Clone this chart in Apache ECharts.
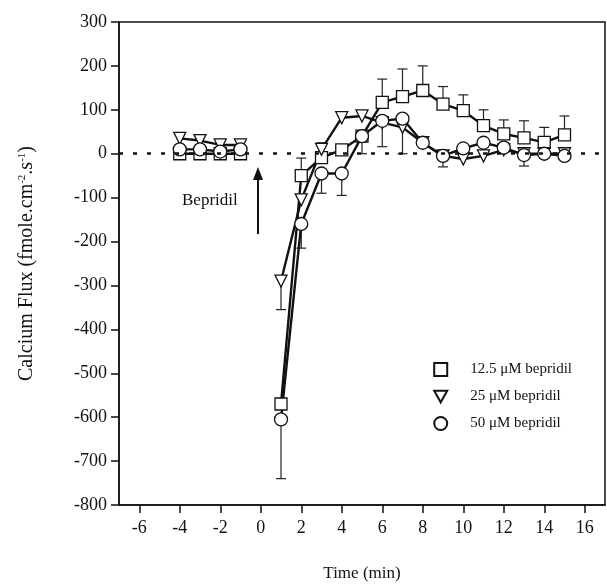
<!DOCTYPE html>
<html>
<head>
<meta charset="utf-8">
<script src="https://cdn.jsdelivr.net/npm/echarts@6/dist/echarts.min.js"></script>
<style>html,body{margin:0;padding:0;background:#fff}#chart{width:607px;height:587px}</style>
</head>
<body>
<div id="chart"></div>
<script>
'use strict';
var times = [-4, -3, -2, -1, 1, 2, 3, 4, 5, 6, 7, 8, 9, 10, 11, 12, 13, 14, 15];
var sq = [0, 0, 0, 0, -570, -50, -9, 9, 40, 117, 130, 144, 113, 98, 64, 45, 36, 26, 43];
var sqErr = [0, 0, 0, 0, 0, 40, 34, 0, 0, 53, 63, 56, 40, 36, 36, 32, 39, 34, 43];
var tri = [35, 30, 20, 20, -290, -105, 10, 82, 86, 71, 60, 25, -5, -12, -5, 9, 0, 0, 0];
var triErr = [0, 0, 0, 0, -65, 0, 0, 0, 0, -55, -60, 0, 0, 0, 0, 0, 0, 0, 0];
var cir = [10, 10, 5, 10, -605, -160, -45, -45, 40, 75, 80, 25, -5, 12, 25, 14, -3, 0, -5];
var cirErr = [0, 0, 0, 0, -135, -55, -45, -50, -40, 0, 0, 0, -25, 0, 0, 0, -25, 0, 0];
var xTicks = [-6, -4, -2, 0, 2, 4, 6, 8, 10, 12, 14, 16];
var names = ['12.5 \u03bcM bepridil', '25 \u03bcM bepridil', '50 \u03bcM bepridil'];
var downTri = 'path://M0,0 L10,0 L5,9 Z';

function pairs(vals) {
  var out = [];
  times.forEach(function(t, i) {
    if (t === 1) out.push([0, '-']); // bepridil added: break the line
    out.push([t, vals[i]]);
  });
  return out;
}
function errData(vals, errs) {
  var out = [];
  times.forEach(function(t, i) { if (errs[i] !== 0) out.push([t, vals[i], vals[i] + errs[i]]); });
  return out;
}
function errSeries(vals, errs) {
  return {
    type: 'custom', silent: true, z: 1,
    data: errData(vals, errs),
    encode: { x: 0, y: [1, 2] },
    renderItem: function(params, api) {
      var a = api.coord([api.value(0), api.value(1)]);
      var b = api.coord([api.value(0), api.value(2)]);
      var st = { stroke: '#222', lineWidth: 1.2 };
      return { type: 'group', children: [
        { type: 'line', shape: { x1: a[0], y1: a[1], x2: b[0], y2: b[1] }, style: st },
        { type: 'line', shape: { x1: b[0] - 5, y1: b[1], x2: b[0] + 5, y2: b[1] }, style: st }
      ] };
    }
  };
}
function lineSeries(name, vals, symbol, size) {
  return {
    name: name, type: 'line', data: pairs(vals), symbol: symbol, symbolSize: size,
    connectNulls: false,
    lineStyle: { color: '#111', width: 2.4 },
    itemStyle: { color: '#fff', borderColor: '#111', borderWidth: 1.3 },
    z: 3
  };
}
var font = 'Liberation Serif';
var chart = echarts.init(document.getElementById('chart'));
chart.setOption({
  animation: false,
  textStyle: { fontFamily: font },
  grid: { left: 119, top: 22, right: 2, bottom: 81, show: true, borderColor: '#111', borderWidth: 1.5 },
  legend: {
    orient: 'vertical', right: 30, top: 357, itemGap: 12, itemWidth: 13, itemHeight: 13,
    textStyle: { fontFamily: font, fontSize: 15, color: '#111', padding: [0, 0, 0, 18] },
    data: [
      { name: names[0], icon: 'rect' },
      { name: names[1], icon: downTri },
      { name: names[2], icon: 'circle' }
    ]
  },
  xAxis: {
    type: 'value', min: -7, max: 17,
    name: 'Time (min)', nameLocation: 'middle', nameGap: 60,
    nameTextStyle: { fontFamily: font, fontSize: 17, color: '#111' },
    axisLine: { onZero: false, lineStyle: { color: '#111', width: 1.5 } },
    axisTick: { length: 8, customValues: xTicks, lineStyle: { color: '#111', width: 1.5 } },
    axisLabel: { customValues: xTicks, fontFamily: font, fontSize: 18, color: '#111', margin: 14 },
    splitLine: { show: false }
  },
  yAxis: {
    type: 'value', min: -800, max: 300, interval: 100,
    name: 'Calcium Flux (fmole.cm{s|-2}.s{s|-1})', nameLocation: 'middle', nameGap: 82,
    nameTextStyle: { fontFamily: font, fontSize: 20, color: '#111', rich: { s: { fontSize: 11, verticalAlign: 'top', padding: [0, 0, 8, 0], fontFamily: font } } },
    axisLine: { onZero: false, lineStyle: { color: '#111', width: 1.5 } },
    axisTick: { length: 8, lineStyle: { color: '#111', width: 1.5 } },
    axisLabel: { fontFamily: font, fontSize: 18, color: '#111', margin: 12 },
    splitLine: { show: false }
  },
  graphic: [
    { type: 'text', left: 182, top: 192, style: { text: 'Bepridil', font: '17px "Liberation Serif"', fill: '#111' } },
    { type: 'line', shape: { x1: 258, y1: 234, x2: 258, y2: 172 }, style: { stroke: '#111', lineWidth: 2 } },
    { type: 'polygon', shape: { points: [[253, 180], [258, 167], [263, 180]] }, style: { fill: '#111' } }
  ],
  series: [
    {
      type: 'line', data: [], silent: true,
      markLine: { silent: true, symbol: 'none', label: { show: false },
        lineStyle: { color: '#111', type: [4, 10], width: 2.5 }, data: [{ yAxis: 0 }] }
    },
    errSeries(sq, sqErr),
    errSeries(tri, triErr),
    errSeries(cir, cirErr),
    lineSeries(names[0], sq, 'rect', 12),
    lineSeries(names[1], tri, downTri, 12),
    lineSeries(names[2], cir, 'circle', 13)
  ]
});
</script>
</body>
</html>
